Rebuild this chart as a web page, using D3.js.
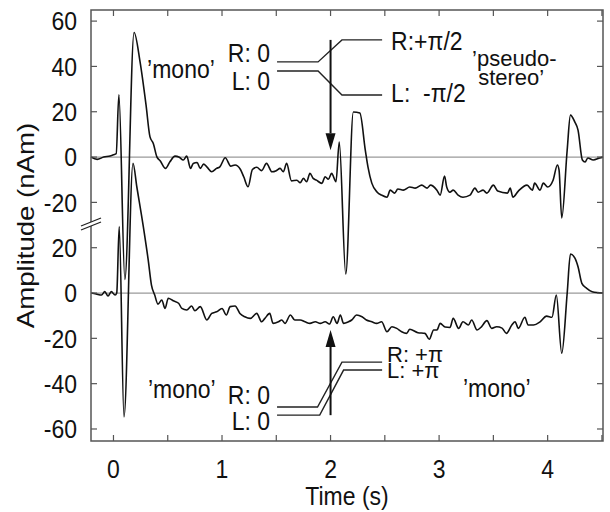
<!DOCTYPE html>
<html>
<head>
<meta charset="utf-8">
<script src="https://cdn.jsdelivr.net/npm/d3@7"></script>
<style>
  body { margin: 0; background: #fff; }
  text { font-family: "Liberation Sans", Arial, sans-serif; fill: #111; }
</style>
</head>
<body>
<div id="chart"></div>
<script>
// 'pseudo-stereo' trace (upper panel), [time (s), amplitude (nAm)]
const stereoTrace = [
  [-0.207,0],[-0.15,-1],[-0.09,0],[-0.03,0.5],[0.0,1],[0.025,1.5],[0.05,27.5],[0.105,-54],[0.19,55],
  [0.245,42],[0.30,23],[0.336,9],[0.367,6],[0.40,0.1],[0.43,-1.6],[0.48,-5],[0.52,-2.1],[0.567,0.4],
  [0.607,-0.1],[0.643,-1.3],[0.675,0.4],[0.71,-5],[0.735,-2.8],[0.77,-2.4],[0.80,-5],[0.83,-3.1],
  [0.86,-4.3],[0.905,-6.5],[0.95,-5],[0.98,-4.3],[1.03,-0.3],[1.08,-4],[1.12,-3.5],[1.17,-5.5],
  [1.20,-8.7],[1.24,-13.1],[1.28,-5.5],[1.32,-4.5],[1.365,-6],[1.41,-2.8],[1.46,-6.5],[1.50,-6],
  [1.535,-5],[1.565,-6.5],[1.595,-2.8],[1.64,-10.5],[1.69,-10.2],[1.72,-11.3],[1.75,-9.4],[1.78,-10.9],
  [1.81,-7.2],[1.84,-9.4],[1.87,-10.2],[1.92,-11.6],[1.95,-8.7],[1.98,-9.8],[2.01,-7.2],[2.05,-10.9],
  [2.08,6.6],[2.14,-51.6],[2.21,19.9],[2.27,19.4],[2.32,3.1],[2.345,-4.4],[2.38,-11.5],[2.43,-15.5],
  [2.47,-16.8],[2.52,-17.7],[2.55,-14.6],[2.59,-15.9],[2.62,-14.1],[2.67,-14.6],[2.73,-13.2],
  [2.78,-13.7],[2.84,-12.4],[2.89,-13.7],[2.92,-12.4],[2.98,-14.6],[3.01,-16.8],[3.05,-8.4],
  [3.07,-13.2],[3.10,-15.5],[3.13,-14.6],[3.175,-16.8],[3.22,-17.7],[3.285,-16.8],[3.33,-13.7],
  [3.36,-15.5],[3.405,-14.6],[3.44,-15.9],[3.50,-12.4],[3.54,-15],[3.63,-15.9],[3.655,-13.7],
  [3.68,-17.7],[3.73,-15],[3.81,-12.4],[3.86,-14.6],[3.88,-11.5],[3.93,-14.6],[3.96,-11.5],
  [4.00,-13.2],[4.05,-10.2],[4.09,-3.5],[4.105,-5.7],[4.13,-26.9],[4.18,3.1],[4.21,18.5],[4.25,15.5],
  [4.28,11.9],[4.32,-1.3],[4.345,-2.2],[4.37,-0.4],[4.42,-1.3],[4.48,-0.4],[4.51,0]
];

// 'mono' trace (lower panel)
const monoTrace = [
  [-0.207,0],[-0.16,-0.4],[-0.11,-0.9],[-0.08,0.6],[-0.05,-1.3],[-0.02,0.6],[0.015,-0.9],[0.03,0],
  [0.053,29.3],[0.097,-54.7],[0.18,57.3],[0.215,46.9],[0.275,29.3],[0.32,14.6],[0.35,3.5],[0.38,-0.9],
  [0.41,-4.9],[0.445,-3.1],[0.475,-6.8],[0.505,-2.3],[0.55,-3.4],[0.60,-4.5],[0.63,-6.8],[0.675,-7.5],
  [0.72,-5.7],[0.75,-7.8],[0.80,-6],[0.86,-11.9],[0.905,-9],[0.95,-8.3],[1.00,-6.8],[1.04,-9.7],
  [1.075,-6],[1.12,-5.7],[1.165,-9],[1.21,-10.5],[1.26,-11.2],[1.32,-9],[1.365,-12.7],[1.395,-11.2],
  [1.44,-9],[1.47,-13.4],[1.52,-12.7],[1.55,-11.9],[1.58,-13.4],[1.63,-9.7],[1.67,-11.9],[1.72,-11.9],
  [1.765,-12.7],[1.81,-13.4],[1.86,-12.7],[1.905,-13.4],[1.95,-12.7],[1.99,-13.7],[2.025,-10.5],
  [2.06,-13.4],[2.09,-9.7],[2.12,-13.4],[2.165,-12.7],[2.195,-11.9],[2.24,-9.7],[2.29,-10.5],
  [2.33,-11.9],[2.38,-12.7],[2.425,-13.4],[2.47,-12.7],[2.52,-17.1],[2.565,-14.9],[2.61,-15.6],
  [2.655,-17.1],[2.70,-17.8],[2.73,-16],[2.805,-17.5],[2.87,-17.8],[2.91,-20.4],[2.95,-16.3],
  [2.98,-16.3],[3.01,-13.4],[3.055,-15],[3.10,-15.2],[3.13,-11.2],[3.18,-15.6],[3.22,-12.7],
  [3.27,-14.1],[3.30,-11.9],[3.35,-16.3],[3.39,-14.9],[3.44,-12.2],[3.485,-15.6],[3.53,-14.9],
  [3.58,-15.5],[3.62,-17.8],[3.67,-14.1],[3.70,-12.7],[3.73,-15.6],[3.79,-10.7],[3.82,-14.1],
  [3.87,-14.1],[3.93,-12.7],[3.99,-10.2],[4.04,-10.7],[4.08,-0.9],[4.13,-26.6],[4.18,-0.1],
  [4.21,17.2],[4.25,15.5],[4.28,11.6],[4.315,4.3],[4.36,2.1],[4.41,0.6],[4.51,0]
];

const TOP_OFFSET = 60;                 // upper panel is drawn shifted by +60 nAm
const topTicks = [60, 40, 20, 0, -20];
const bottomTicks = [20, 0, -20, -40, -60];
const timeTicks = [0, 0.5, 1, 1.5, 2, 2.5, 3, 3.5, 4, 4.5];
const timeLabels = [0, 1, 2, 3, 4];

// phase annotations: [time, amplitude on the combined axis]
const rTopLine = [[1.507,102],[1.885,102],[2.105,111.7],[2.475,111.7]];
const lTopLine = [[1.507,98],[1.885,98],[2.105,87.4],[2.475,87.4]];
const rBotLine = [[1.507,-50.3],[1.88,-50.3],[2.105,-30.5],[2.475,-30.5]];
const lBotLine = [[1.507,-53.9],[1.9,-53.9],[2.12,-34],[2.475,-34]];
const arrows = [
  { t: 2.0, from: 111.7, to: 63 },
  { t: 2.0, from: -53.9, to: -16.3 }
];
// text notes, baseline at (t, v); "stack" notes sit in tight pairs
const notes = [
  { t: 0.31,  v: 94.9,  text: "\u2019mono\u2019", anchor: "start" },
  { t: 1.442, v: 101.8, text: "R: 0", anchor: "end" },
  { t: 1.442, v: 89.6,  text: "L: 0", anchor: "end" },
  { t: 2.558, v: 107.3, text: "R:+\u03c0/2", anchor: "start" },
  { t: 2.558, v: 84.3,  text: "L:  -\u03c0/2", anchor: "start" },
  { t: 3.304, v: 100.3, text: "\u2019pseudo-", anchor: "start", stack: true },
  { t: 3.36,  v: 91.6,  text: "stereo\u2019", anchor: "start", stack: true },
  { t: 0.318, v: -46.4, text: "\u2019mono\u2019", anchor: "start" },
  { t: 1.442, v: -48.8, text: "R: 0", anchor: "end" },
  { t: 1.442, v: -60.6, text: "L: 0", anchor: "end" },
  { t: 2.52,  v: -30.3, text: "R: +\u03c0", anchor: "start", stack: true },
  { t: 2.52,  v: -37.4, text: "L: +\u03c0", anchor: "start", stack: true },
  { t: 3.22,  v: -45.9, text: "\u2019mono\u2019", anchor: "start" }
];

const width = 610, height = 512;
const FS = 23, FS_STACK = 22, VSTRETCH = 1.12;
const x = d3.scaleLinear().domain([-0.207, 4.51]).range([91, 603]);
const y = d3.scaleLinear().domain([-65.3, 124.9]).range([441, 10]);

const svg = d3.select("#chart").append("svg")
    .attr("width", width)
    .attr("height", height);

const x0 = x.range()[0], x1 = x.range()[1];
const yTop = y.range()[1], yBot = y.range()[0];

// text drawn slightly taller than wide, like the original figure
function label(px, py, str, anchor, size, stretch) {
  return svg.append("text")
      .attr("transform", `translate(${px},${py}) scale(1,${stretch || VSTRETCH})`)
      .attr("text-anchor", anchor)
      .attr("font-size", size || FS)
      .style("white-space", "pre")
      .text(str);
}

// zero lines
[TOP_OFFSET, 0].forEach(v => {
  svg.append("line")
      .attr("x1", x0).attr("x2", x1)
      .attr("y1", y(v)).attr("y2", y(v))
      .attr("stroke", "#9a9a9a").attr("stroke-width", 1.2);
});

// traces
const line = d3.line()
    .x(d => x(d[0]))
    .y(d => y(d[1]))
    .curve(d3.curveMonotoneX);

svg.append("path")
    .datum(stereoTrace.map(d => [d[0], d[1] + TOP_OFFSET]))
    .attr("fill", "none").attr("stroke", "#111").attr("stroke-width", 1.6)
    .attr("stroke-linejoin", "round")
    .attr("d", line);

svg.append("path")
    .datum(monoTrace)
    .attr("fill", "none").attr("stroke", "#111").attr("stroke-width", 1.6)
    .attr("stroke-linejoin", "round")
    .attr("d", line);

// frame
svg.append("rect")
    .attr("x", x0).attr("y", yTop)
    .attr("width", x1 - x0).attr("height", yBot - yTop)
    .attr("fill", "none").attr("stroke", "#555").attr("stroke-width", 1.5);

// y ticks (inward, both sides)
const yTickVals = topTicks.map(v => ({ v: v + TOP_OFFSET, label: v }))
    .concat(bottomTicks.map(v => ({ v: v, label: v })));
const tickLen = 6;
yTickVals.forEach(d => {
  svg.append("line").attr("x1", x0).attr("x2", x0 + tickLen)
      .attr("y1", y(d.v)).attr("y2", y(d.v)).attr("stroke", "#555").attr("stroke-width", 1.2);
  svg.append("line").attr("x1", x1).attr("x2", x1 - tickLen)
      .attr("y1", y(d.v)).attr("y2", y(d.v)).attr("stroke", "#555").attr("stroke-width", 1.2);
  label(77, y(d.v) + 0.36 * FS * VSTRETCH, d.label, "end");
});

// x ticks (inward, top and bottom)
timeTicks.forEach(t => {
  svg.append("line").attr("x1", x(t)).attr("x2", x(t))
      .attr("y1", yBot).attr("y2", yBot - tickLen).attr("stroke", "#555").attr("stroke-width", 1.2);
  svg.append("line").attr("x1", x(t)).attr("x2", x(t))
      .attr("y1", yTop).attr("y2", yTop + tickLen).attr("stroke", "#555").attr("stroke-width", 1.2);
});
timeLabels.forEach(t => label(x(t), 478, t, "middle"));

// axis break marks on the left axis
const by = 225;
svg.append("path")
    .attr("d", `M${x0 - 10},${by + 5} L${x0 + 10},${by - 3} L${x0 + 10},${by - 7} L${x0 - 10},${by + 1} Z`)
    .attr("fill", "#fff");
[1, 5].forEach(o => {
  svg.append("line")
      .attr("x1", x0 - 10).attr("y1", by + o)
      .attr("x2", x0 + 10).attr("y2", by + o - 8)
      .attr("stroke", "#222").attr("stroke-width", 1.3);
});

// axis titles
label((x0 + x1) / 2, 505, "Time (s)", "middle");

svg.append("text")
    .attr("transform", `translate(34,${(yTop + yBot) / 2}) rotate(-90) scale(1.2,1)`)
    .attr("text-anchor", "middle")
    .attr("font-size", FS)
    .text("Amplitude (nAm)");

// phase annotation lines
const plain = d3.line().x(d => x(d[0])).y(d => y(d[1]));
[rTopLine, lTopLine, rBotLine, lBotLine].forEach(pts => {
  svg.append("path")
      .attr("d", plain(pts))
      .attr("fill", "none").attr("stroke", "#222").attr("stroke-width", 1.4);
});

// arrows
arrows.forEach(a => {
  const ax = x(a.t), yf = y(a.from), yt = y(a.to);
  const dir = yt > yf ? 1 : -1;
  const head = 17, half = 5;
  svg.append("line")
      .attr("x1", ax).attr("x2", ax)
      .attr("y1", yf).attr("y2", yt - dir * head)
      .attr("stroke", "#111").attr("stroke-width", 2);
  svg.append("path")
      .attr("d", `M${ax},${yt} L${ax - half},${yt - dir * head} L${ax + half},${yt - dir * head} Z`)
      .attr("fill", "#111");
});

// annotation texts
notes.forEach(n => {
  if (n.stack) label(x(n.t), y(n.v), n.text, n.anchor, FS_STACK, 1.0);
  else label(x(n.t), y(n.v), n.text, n.anchor);
});
</script>
</body>
</html>
